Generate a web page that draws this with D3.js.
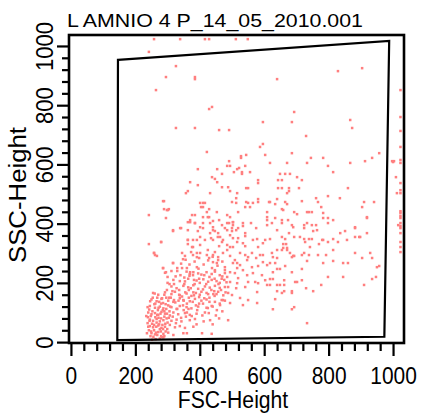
<!DOCTYPE html>
<html>
<head>
<script src='https://d3js.org/d3.v7.min.js'></script>
<title>FSC vs SSC</title>
<style>
body {margin:0; background-color:white;}
text {font-family:'Liberation Sans', Arial, sans-serif; fill:black;}
</style>
</head>
<body>
<svg width=421 height=417></svg>
<script>
var title = 'L AMNIO 4 P_14_05_2010.001'
var xLabel = 'FSC-Height'
var yLabel = 'SSC-Height'
var majorTicks = [0,200,400,600,800,1000]
var minorTicks = [40,80,120,160,240,280,320,360,440,480,520,560,640,680,720,760,840,880,920,960]

// gate corners, clockwise from top left
var gateFsc = [146,988,973,144]
var gateSsc = [953,1017,18,7]

// dense cluster near the origin [FSC, SSC]
var corePoints = [
 [292,234],[359,238],[369,230],[380,236],[395,232],[405,228],[421,236],[437,230],[447,238],[462,226],[478,233],
 [318,210],[354,205],[364,214],[390,208],[400,200],[411,212],[426,204],[437,210],[452,206],[468,214],[483,202],
 [312,188],[328,182],[349,190],[364,185],[380,192],[395,180],[416,188],[431,184],[447,190],[462,183],[478,186],
 [255,166],[271,160],[292,168],[312,162],[323,170],[338,158],[359,164],[380,168],[400,160],[421,166],[442,162],[457,170],[473,158],
 [250,144],[266,138],[281,146],[302,140],[318,136],[338,148],[349,142],[369,138],[385,146],[405,140],[421,144],[447,136],[468,142],
 [245,122],[261,116],[276,120],[287,114],[302,124],[312,118],[328,112],[338,122],[359,118],[374,114],[395,120],[421,116],[437,122],
 [240,100],[250,94],[261,98],[271,92],[281,102],[292,96],[307,90],[318,100],[333,94],[354,98],[369,92],[390,96],[416,100],
 [245,76],[255,72],[266,78],[276,70],[287,74],[297,80],[312,72],[328,76],[343,70],[369,74],[385,78],
 [245,54],[255,50],[271,56],[281,48],[292,52],[307,58],[323,50],[338,54],[354,48],[380,52],
 [250,30],[261,26],[271,34],[287,28],[302,32],[318,24],[349,30],[437,28],[276,12],[287,16],
 [252,62],[262,84],[270,108],[280,130],[290,86],[258,40],[266,66],[284,58],[296,112],[248,88],[276,44],[300,66],
 [306,104],[262,130],[242,40],[290,20],[256,18],[268,24],[238,64],[283,148],[310,150],[324,134],[330,112],[342,82],
 [350,108],[360,130],[374,156],[315,172],[345,154],[298,176],[306,196],
 [243,110],[253,104],[259,128],[265,52],[272,82],[278,96],[285,108],[294,128],[299,44],[304,82],[239,84],[247,20],
 [263,10],[279,36],[293,62],[308,120],[316,86],[326,64],[334,140],[348,124],[357,86],[365,112],[378,136],[388,124],
 [398,152],[410,130],[430,150],[445,172],[458,196],[470,222],[382,210],[396,248],[340,226],[330,240],[300,220],
 [366,176],[352,196],[410,178],[426,162],[440,120],
 [236,30],[240,52],[244,72],[249,36],[252,8],[258,58],[264,32],[268,92],[274,60],[280,20],[286,44],[294,36],
 [298,96],[234,88],[238,118],[246,138],[254,150],[260,164],[268,150],[274,136],[286,132],[296,150],[290,104],
 [280,80],[272,116]
]

// diagonal band above the core
var bandPoints = [
 [330,250],[342,265],[356,278],[368,262],[384,272],[398,284],[412,262],[426,276],[440,288],[455,258],[470,272],
 [312,240],[325,222],[338,206],[352,218],[368,224],[384,196],[398,214],[414,226],[430,220],[446,214],[462,200],
 [476,210],[300,200],[320,196],[336,176],[355,168],[372,182],[388,166],[405,170],[420,196],[436,176],[452,162],
 [466,176],[480,168],[290,160],[305,150],[320,142],[336,160],[350,140],[366,150],[382,158],[398,130],[414,148],
 [430,136],[446,156],[462,130],[478,140],[360,100],[375,88],[392,108],[408,90],[428,98],[450,90],[470,104],
 [390,60],[412,70],[440,60],[460,80]
]

// middle of the cloud
var spreadPoints = [
 [258,301],[261,294],[317,267],[345,301],[354,291],[373,304],[379,294],[391,287],[401,301],[422,294],[429,284],
 [447,304],[457,287],[441,270],[453,267],[472,301],[485,311],[494,291],[509,277],[516,267],[525,260],[541,294],
 [550,287],[562,301],[575,284],[587,294],[596,270],[609,260],[581,257],[286,250],[345,250],[391,253],[438,250],
 [447,243],[478,243],[485,220],[494,203],[488,186],[503,267],[516,250],[509,233],[519,216],[516,199],[513,182],
 [534,243],[547,226],[550,203],[541,186],[565,233],[572,203],[581,199],[578,169],[593,226],[603,209],[609,193],
 [550,142],[578,132],[525,149],[534,125],[488,74],[494,132],[500,159],[488,166],[407,30],[432,74],[453,108],
 [463,125],[472,142],[425,115],[360,30],[283,17],
 [422,642],[587,659],[596,669],[603,632],[528,628],[528,622],[544,632],[491,611],[485,595],[494,595],[454,584],
 [394,584],[516,584],[506,574],[469,568],[438,557],[447,551],[454,540],[531,574],[531,568],[556,574],[581,547],
 [581,537],[370,540],[394,530],[469,523],[488,523],[494,510],[544,520],[550,520],[516,503],[363,510],[357,503],
 [432,503],[513,486],[513,470],[500,473],[544,473],[550,470],[565,470],[581,483],[581,473],[615,473],[289,476],
 [410,470],[416,470],[289,449],[304,449],[295,419],[242,429],[429,449],[429,422],[425,422],[404,456],[453,439],
 [485,429],[519,439],[541,456],[556,456],[609,439],[376,429],[385,429],[410,422],[370,405],[363,405],[385,402],
 [410,402],[432,402],[441,409],[460,412],[469,395],[485,402],[491,402],[503,405],[503,395],[534,402],[534,392],
 [559,402],[609,412],[609,395],[317,375],[342,385],[363,378],[394,375],[410,385],[441,378],[447,375],[478,385],
 [485,378],[500,385],[500,375],[513,378],[541,368],[541,358],[575,385],[456,355],[463,355],[432,368],[401,355],
 [416,345],[391,345],[494,361],[503,351],[519,351],[516,338],[578,348],[603,345],[242,331],[280,338],[363,345],
 [363,331],[379,345],[379,321],[401,328],[435,351],[441,345],[460,324],[469,338],[485,328],[494,321],[534,334],
 [541,324],[596,334],[541,595],[522,588],
 [686,638],[618,605],[671,605],[745,622],[783,622],[733,605],[798,595],[814,574],[867,605],[913,611],[935,622],
 [957,638],[649,568],[665,568],[680,568],[643,547],[655,547],[702,557],[717,547],[643,520],[655,520],[677,520],
 [677,510],[671,503],[708,520],[860,520],[618,473],[640,483],[634,466],[665,473],[671,466],[717,476],[761,486],
 [767,473],[798,493],[835,486],[910,473],[941,473],[904,456],[655,449],[777,456],[693,439],[702,432],[733,439],
 [739,439],[748,439],[783,436],[634,419],[783,419],[798,419],[814,412],[919,419],[655,412],[655,402],[686,395],
 [724,395],[724,385],[733,402],[748,395],[761,395],[752,375],[851,375],[882,385],[919,368],[677,368],[655,355],
 [665,348],[693,355],[724,348],[739,348],[748,348],[783,345],[798,338],[814,348],[829,338],[882,355],[895,355],
 [618,348],[659,331],[668,331],[770,331],[659,318],[671,318],
 [624,301],[640,311],[655,311],[671,311],[680,301],[690,291],[693,291],[686,287],[717,294],[724,301],[739,294],
 [767,294],[792,294],[882,301],[904,284],[935,284],[627,287],[640,284],[618,267],[634,267],[665,257],[733,274],
 [783,267],[814,274],[845,267],[860,267],[627,236],[640,247],[649,247],[686,236],[717,247],[957,257],[618,213],
 [627,213],[662,209],[696,203],[702,203],[717,209],[798,220],[845,220],[947,220],[935,213],[910,193],[777,193],
 [640,193],[649,193],[662,193],[618,193],[640,172],[655,166],[662,172],[686,172],[686,166],[730,182],[752,172],
 [634,145],[693,118],[686,111],[627,111],[733,64]
]

// more of the middle
var midPoints = [
 [286,476],[298,446],[301,446],[317,378],[339,385],[280,338],[258,301],[267,291],[286,250],[295,236],[317,267],
 [348,280],[360,250],[370,236],[379,226],[363,345],[376,321],[391,301],[401,470],[410,456],[422,439],[370,412],
 [385,402],[401,388],[441,388],[457,368],[472,345],[494,422],[503,405],[519,385],[425,311],[441,294],[457,277],
 [478,253],[494,236],[503,321],[525,301],[547,277],[562,253],[565,345],[581,321],[596,294],[609,422],[624,402],
 [640,378],[659,446],[674,412],[690,388],[711,355],[727,338],[742,321],[764,378],[780,345],[798,402],[814,311],
 [836,368],[857,345],[882,388],[898,355],[919,422],[929,301],[950,253]
]

// sparse events high up
var upperPoints = [
 [242,980],[326,932],[295,895],[264,851],[385,895],[385,888],[640,888],[829,915],[904,925],[429,787],[438,794],
 [693,777],[326,723],[385,723],[460,716],[491,716],[596,743],[686,743],[867,750],[873,723],[730,696]
]

// events piled on the top and right edges
var edgePoints = [
 [258,1023],[339,1023],[416,1023],[429,1023],[512,1023],[549,1023],
 [1023,851],[1023,760],[1023,713],[1023,659],[1023,615],[1023,605],[1023,537],[1023,513],[1023,503],[1023,442],
 [1023,436],[1023,426],[1023,419],[1023,402],[1023,392],[1023,385],[1023,368],[1023,338],[1023,321],[1023,304],
 [997,611],[1003,611],[1000,608],[1009,557],[1012,503],[1016,395]
]

var allPoints = corePoints.concat(bandPoints, spreadPoints, midPoints, upperPoints, edgePoints)

//set scales
var x = d3.scaleLinear().domain([-6,1034]).range([69,404]);
var y = d3.scaleLinear().domain([-3,1037]).range([343,35]);

var svg = d3.select('svg')

//background
svg.append('rect').attr('width',421).attr('height',417).attr('fill','white')

//dots
svg.append('g')
  .selectAll('rect')
  .data(allPoints)
  .enter()
  .append('rect')
    .attr('x',function(d) {return x(d[0])-1.25;})
    .attr('y',function(d) {return y(d[1])-1.25;})
    .attr('width',2.5)
    .attr('height',2.5)
    .attr('fill','#ff7f7f');

//gate polygon
var gate = gateFsc.map(function(d,i) {return [d,gateSsc[i]];})
svg.append('path')
  .attr('d',d3.line().x(function(d) {return x(d[0]);}).y(function(d) {return y(d[1]);})(gate)+'Z')
  .attr('fill','none')
  .attr('stroke','black')
  .attr('stroke-width',2.2);

//frame
svg.append('rect')
  .attr('x',x.range()[0])
  .attr('y',y.range()[1])
  .attr('width',x.range()[1]-x.range()[0])
  .attr('height',y.range()[0]-y.range()[1])
  .attr('fill','none')
  .attr('stroke','black')
  .attr('stroke-width',2.6);

function squeeze(sel,k) {
  sel.each(function() {
    var w = this.getComputedTextLength()
    d3.select(this).attr('textLength',w*k).attr('lengthAdjust','spacingAndGlyphs')
  })
}

//x axis
var xAxis = svg.append('g')
  .attr('transform','translate(0,'+y.range()[0]+')')
  .call(d3.axisBottom(x).tickValues(majorTicks).tickSize(13).tickSizeOuter(0).tickFormat(d3.format('d')))
xAxis.select('.domain').remove()
xAxis.selectAll('line').attr('stroke-width',2.2)
xAxis.selectAll('text').attr('y',41).attr('dy',null).style('font-size','23.5px').call(squeeze,0.89)

var xMinor = svg.append('g')
  .attr('transform','translate(0,'+y.range()[0]+')')
  .call(d3.axisBottom(x).tickValues(minorTicks).tickSize(8).tickSizeOuter(0).tickFormat(''))
xMinor.select('.domain').remove()
xMinor.selectAll('line').attr('stroke-width',2.2)

//y axis
var yAxis = svg.append('g')
  .attr('transform','translate('+x.range()[0]+',0)')
  .call(d3.axisLeft(y).tickValues(majorTicks).tickSize(12).tickSizeOuter(0).tickFormat(d3.format('d')))
yAxis.select('.domain').remove()
yAxis.selectAll('line').attr('stroke-width',2.2)
yAxis.selectAll('text')
  .attr('transform','rotate(-90)')
  .attr('x',0)
  .attr('y',-16)
  .attr('dy',null)
  .attr('text-anchor','middle')
  .style('font-size','23.5px')
  .call(squeeze,0.94)

var yMinor = svg.append('g')
  .attr('transform','translate('+x.range()[0]+',0)')
  .call(d3.axisLeft(y).tickValues(minorTicks).tickSize(7).tickSizeOuter(0).tickFormat(''))
yMinor.select('.domain').remove()
yMinor.selectAll('line').attr('stroke-width',2.2)

//title
svg.append('text')
  .attr('x',67)
  .attr('y',27)
  .style('font-size','18.5px')
  .attr('textLength',296)
  .attr('lengthAdjust','spacingAndGlyphs')
  .text(title);

//x axis label
svg.append('text')
  .attr('text-anchor','middle')
  .attr('x',233)
  .attr('y',408)
  .style('font-size','23.5px')
  .text(xLabel)
  .call(squeeze,0.9);

//y axis label
svg.append('text')
  .attr('text-anchor','middle')
  .attr('transform','translate(26,195) rotate(-90)')
  .style('font-size','23px')
  .text(yLabel)
  .attr('textLength',136)
  .attr('lengthAdjust','spacingAndGlyphs');
</script>
</body>
</html>
